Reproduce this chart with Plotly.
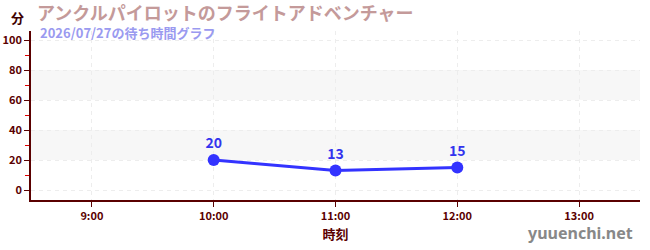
import plotly.graph_objects as go

times = ["10:00", "11:00", "12:00"]
waits = [20, 13, 15]
tick_labels = ["9:00", "10:00", "11:00", "12:00", "13:00"]
y_ticks = [0, 20, 40, 60, 80, 100]
bands = [(20, 40), (60, 80)]

def to_hours(t):
    h, m = t.split(":")
    return int(h) + int(m) / 60

xs = [to_hours(t) for t in times]
tick_vals = [to_hours(t) for t in tick_labels]

W, H = 650, 250
pl, pr, pt, pb = 31, 10, 31, 50
pw, ph = W - pl - pr, H - pt - pb
def px(x):
    return (x - pl) / pw
def py(y):
    return (H - pb - y) / ph

fig = go.Figure()
fig.add_trace(go.Scatter(
    x=xs, y=waits, mode="lines+markers+text",
    text=[str(v) for v in waits], textposition="top center",
    textfont=dict(family="Noto Sans CJK JP", size=14, color="#3333ee", weight="bold"),
    line=dict(color="#3333ff", width=3),
    marker=dict(color="#3333ff", size=12),
    cliponaxis=False, hoverinfo="skip",
))

for y0, y1 in bands:
    fig.add_hrect(y0=y0, y1=y1, fillcolor="#f7f7f7", line_width=0, layer="below")

axis_color = "#5a0000"
grid = dict(showgrid=True, gridcolor="#ededed", griddash="4px,4px", gridwidth=1)
fig.update_layout(
    width=W, height=H,
    margin=dict(l=pl, r=pr, t=pt, b=pb, autoexpand=False),
    paper_bgcolor="white", plot_bgcolor="white",
    showlegend=False,
    font=dict(family="Noto Sans CJK JP", color=axis_color),
    xaxis=dict(
        range=[8.5, 13.5], tickvals=tick_vals, ticktext=tick_labels,
        showline=True, linecolor=axis_color, linewidth=1.5,
        ticks="outside", tickcolor=axis_color, ticklen=5,
        tickfont=dict(size=11, color=axis_color, weight="bold"),
        zeroline=False, automargin=False,
        title=dict(text="時刻", font=dict(size=13, color=axis_color, weight="bold"), standoff=8),
        **grid,
    ),
    yaxis=dict(
        range=[-6.67, 106], tickvals=y_ticks,
        showline=True, linecolor=axis_color, linewidth=1.5,
        ticks="outside", tickcolor=axis_color, ticklen=5,
        tickfont=dict(size=11, color=axis_color, weight="bold"),
        zeroline=False, automargin=False,
        minor=dict(tickvals=[10, 30, 50, 70, 90], ticks="outside", ticklen=4, tickcolor="#dd0000", showgrid=False),
        **grid,
    ),
)

fig.add_annotation(text="<b>分</b>", x=px(17), y=py(17), xref="paper", yref="paper",
                   showarrow=False, font=dict(size=13, color="#400000"), xanchor="center", yanchor="middle")
fig.add_annotation(text="<b>アンクルパイロットのフライトアドベンチャー</b>", x=px(35), y=py(12),
                   xref="paper", yref="paper", showarrow=False, xanchor="left", yanchor="middle",
                   font=dict(size=18, color="#c49a9a"))
fig.add_annotation(text="<b>2026/07/27の待ち時間グラフ</b>", x=px(38), y=py(33),
                   xref="paper", yref="paper", showarrow=False, xanchor="left", yanchor="middle",
                   font=dict(size=13, color="#9a9af0"))
fig.add_annotation(text="<b>yuuenchi.net</b>", x=px(635), y=py(233),
                   xref="paper", yref="paper", showarrow=False, xanchor="right", yanchor="middle",
                   font=dict(size=16, color="#888888", family="Noto Sans"))

fig.write_html("out.html")
